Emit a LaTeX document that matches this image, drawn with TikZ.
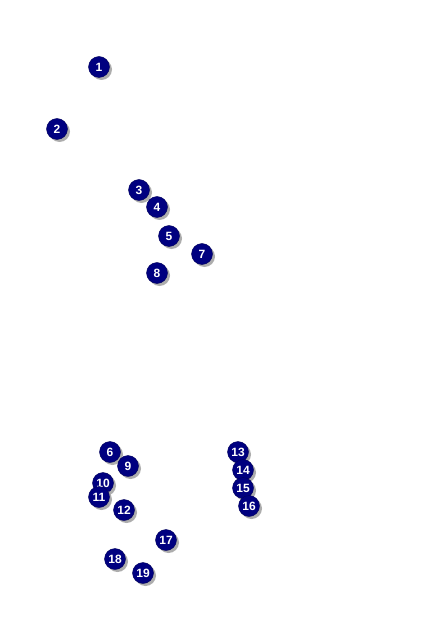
\documentclass[tikz,border=0pt]{standalone}
\usepackage{fontspec}
\setmainfont{Liberation Sans}
\usetikzlibrary{shadows}
\definecolor{ballnavy}{RGB}{0,0,128}
\begin{document}
\begin{tikzpicture}[x=1pt,y=-1pt,
		ball/.style={circle, fill=ballnavy, draw=ballnavy!70!black, line width=0.4pt,
			minimum size=21pt, inner sep=0pt, text=white,
			font=\fontsize{12}{12}\selectfont\bfseries,
			drop shadow={shadow xshift=2.5pt, shadow yshift=-2.5pt, fill=black!40, opacity=0.8}}]
			
			% Canvas
			\useasboundingbox (0,0) rectangle (424,636);
			
			% Upper group
			\foreach \n/\px/\py in {1/99/67, 2/57/129, 3/139/190, 4/157/207, 5/169/236,
				7/202/254, 8/157/273}
				\node[ball] (b\n) at (\px,\py) {\n};
			
			% Lower left group
			\foreach \n/\px/\py in {6/110/452, 9/128/466, 10/103/483, 11/99/497, 12/124/510}
				\node[ball] (b\n) at (\px,\py) {\n};
			
			% Lower right column
			\foreach \n/\px/\py in {13/238/452, 14/243/470, 15/243/488, 16/249/506}
				\node[ball] (b\n) at (\px,\py) {\n};
			
			% Bottom
			\foreach \n/\px/\py in {17/166/540, 18/115/559, 19/143/573}
				\node[ball] (b\n) at (\px,\py) {\n};
			
		\end{tikzpicture}
\end{document}
